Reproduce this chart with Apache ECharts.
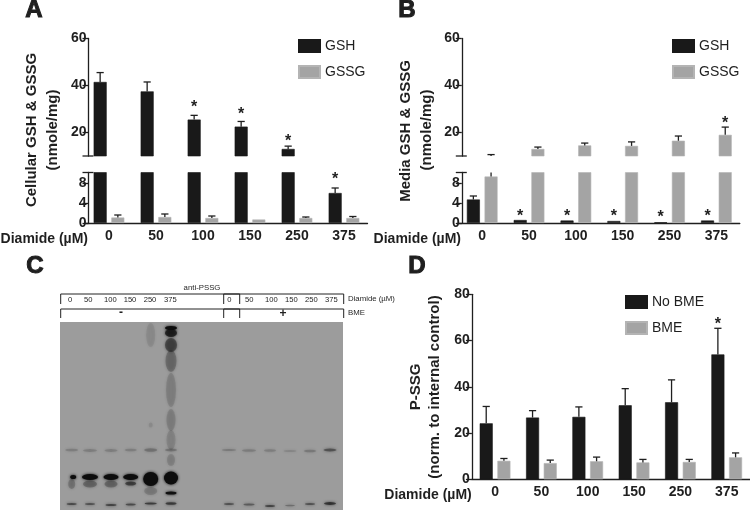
<!DOCTYPE html>
<html><head><meta charset="utf-8">
<style>html,body{margin:0;padding:0;background:#fff}#c{width:750px;height:510px}</style>
<script src="https://cdn.jsdelivr.net/npm/echarts@6/dist/echarts.min.js"></script>
</head><body><div id="c"></div>
<script>
// ---- data ----
const doses = ['0','50','100','150','250','375'];
const gshA = [41.5,37.5,25.5,22.5,13,6];
const gshATop = [45.5,41.5,27.3,24.7,14.2,7];
const gssgA = [1.1,1.2,1.0,0.7,1.0,1.0];
const gssgATop = [1.6,1.8,1.4,null,1.2,1.3];
const starsAUpper = [[2,-1,32.3],[3,-1,29.4],[4,-1,17.8]];
const starsALower = [[5,-1,9.46]];
const gshB = [4.7,0.6,0.5,0.4,0.15,0.5];
const gshBTop = [5.4,null,null,null,null,null];
const gssgB = [9.3,13,14.5,14.3,16.5,19];
const gssgBTop = [10.6,13.8,15.5,16,18.5,22.3];
const starsBUpper = [[5,1,25.6]];
const starsBLower = [[1,-1,2.14],[2,-1,2.14],[3,-1,2.14],[4,-1,1.8],[5,-1,2.14]];
const noBme = [24.2,26.7,27,32,33.3,54];
const noBmeTop = [31.5,29.7,31.3,39.2,43,65.3];
const bme = [8,7,7.8,7.3,7.5,9.5];
const bmeTop = [9,8.3,9.6,8.6,8.6,11.4];
const starsD = [[5,-1,68.6]];
const upperTicks = [20,40,60];
const lowerTicks = [0,4,8];
const ticksD = [0,20,40,60,80];
// blot: lane centres (gel units), and bands [lane, migration, width, height, density]
const laneLeft = [11.7,30,51,70.7,90.7,111];
const laneRight = [169,189,210,230,250,270];
const bandsLeft = [
 [0,165,13,2.5,.14],[1,165.5,14,3,.14],[2,165.5,13,3,.14],[3,165,12,2.5,.14],[4,165,13,3.5,.2],[5,165,12,3,.2],
 [0,219,10,2,.45],[1,219,10,2,.4],[2,220,11,2,.5],[3,219.5,10,2,.45],[4,218.5,12,2,.55],[5,218.5,11,2.5,.55],
 [0,199,7,10,.18],[1,199,14,7,.25],[2,199,13,7,.25],[3,198.5,11,4,.5],[4,206,13,8,.15],[5,208,11,3,.95],
 [0,192,6,4,1],[1,192,16,6,1],[2,192,15,6,1],[3,192,15,6,1],[4,194,15,14,1],[5,193,14,13,1],
 [5,43,12,4,1],[5,48,12,8,.7],[5,60,12,14,.42],[5,76,11,22,.22],[5,105,10,34,.12],[5,135,9,22,.13],[5,155,9,20,.1],[5,175,8,12,.12],
 [4,50,9,24,.07],[4,140,4,5,.08]
];
const bandsRight = [
 [0,165,14,2,.16],[1,165.5,14,2.5,.15],[2,165.5,12,2.5,.14],[3,166,13,2,.1],[4,166,12,2.5,.17],[5,165,13,3,.38],
 [0,219,10,2,.4],[1,219.5,11,2,.35],[2,221,10,2,.5],[3,220.5,10,1.5,.25],[4,219,10,2,.4],[5,218.5,12,3,.6]
];
const gelBox = [0,37,283,225];
const brackets = [[0.7,179.7,9,19],[0.7,179.7,24,33],[163.7,283.7,9,19],[163.7,283.7,24,33]];
const signRows = [['-',61,28],['+',223,29]];

// ---- shared styling ----
const INK='#1f1f1f', BLACK='#191919', GREY='#a4a4a4';
const FONT='"Liberation Sans",Arial,sans-serif';
const BAR_W=13, SHIFT=8.85;

const grids=[], xAxes=[], yAxes=[], series=[];

function errorSeries(g, vals, tops, sign, min, max){
  series.push({type:'custom',xAxisIndex:g,yAxisIndex:g,silent:true,z:5,
    data:vals.map((v,i)=>[i,v,tops[i]==null?NaN:tops[i]]),
    renderItem(p,api){
      const i=api.value(0),v=api.value(1),t=api.value(2);
      if(isNaN(t)) return {type:'group',children:[]};
      const lo=Math.max(v,min),hi=Math.min(t,max);
      if(lo>=hi) return {type:'group',children:[]};
      const a=api.coord([i,lo]),b=api.coord([i,hi]),x=a[0]+sign*SHIFT;
      const st={stroke:INK,lineWidth:1.3};
      const kids=[{type:'line',shape:{x1:x,y1:a[1],x2:x,y2:b[1]},style:st}];
      if(t<=max) kids.push({type:'line',shape:{x1:x-3.6,y1:b[1],x2:x+3.6,y2:b[1]},style:st});
      return {type:'group',children:kids};
    }});
}
function starSeries(g, rows){
  series.push({type:'custom',xAxisIndex:g,yAxisIndex:g,silent:true,z:6,data:rows,
    renderItem(p,api){
      const c=api.coord([api.value(0),api.value(2)]);
      return {type:'text',style:{text:'*',x:c[0]+api.value(1)*SHIFT,y:c[1]+4,textAlign:'center',textVerticalAlign:'middle',
        font:'bold 16px '+FONT,fill:INK}};
    }});
}
function breakTick(g, value){
  series.push({type:'custom',xAxisIndex:g,yAxisIndex:g,silent:true,z:5,data:[[0,value]],
    renderItem(p,api){
      const y=api.coord([0,api.value(1)])[1],x0=p.coordSys.x+3;
      return {type:'line',shape:{x1:x0-6,y1:y,x2:x0+5,y2:y},style:{stroke:INK,lineWidth:1.3}};
    }});
}
function addGrid(box, showX, yAxisOpt, off){
  const g=grids.length;
  grids.push(box);
  xAxes.push({gridIndex:g,type:'category',data:doses,show:showX,
    axisLine:{onZero:false,lineStyle:{color:INK,width:1.3}},
    axisTick:{alignWithLabel:true,length:5,lineStyle:{color:INK,width:1.3}},
    axisLabel:{interval:0,margin:6,color:INK,font:'bold 14px '+FONT,fontFamily:FONT,fontWeight:'bold',fontSize:14}});
  yAxes.push(Object.assign({gridIndex:g,type:'value',offset:off,splitLine:{show:false},
    axisLine:{show:true,lineStyle:{color:INK,width:1.3}}},yAxisOpt));
  return g;
}
function valueAxis(min,max,ticks){
  return {min,max,
    axisTick:{show:true,length:6,customValues:ticks,lineStyle:{color:INK,width:1.3}},
    axisLabel:{customValues:ticks,margin:2,color:INK,fontFamily:FONT,fontWeight:'bold',fontSize:14}};
}
function bars(g,name,color,vals,min){
  series.push({type:'bar',name,xAxisIndex:g,yAxisIndex:g,barWidth:BAR_W,barGap:'36%',
    itemStyle:{color,borderColor:color===GREY?'#b4b4b4':BLACK,borderWidth:.6},
    data:vals.map(v=>v>min?v:'-'),clip:true,silent:true});
}
function brokenPanel(left,width,a,aTop,b,bTop,starsUp,starsLow){
  const up=addGrid({left,width,top:38.5,height:117.5},false,valueAxis(10,60,upperTicks),-3);
  const low=addGrid({left,width,top:172.5,height:50.5},true,valueAxis(0,10.1,lowerTicks),-3);
  for(const [g,mn,mx] of [[up,10,60],[low,0,10.1]]){
    bars(g,'GSH',BLACK,a,mn); bars(g,'GSSG',GREY,b,mn);
    errorSeries(g,a,aTop,-1,mn,mx); errorSeries(g,b,bTop,1,mn,mx);
  }
  breakTick(up,10); breakTick(low,10.1);
  starSeries(up,starsUp); starSeries(low,starsLow);
}
brokenPanel(85.5,282,gshA,gshATop,gssgA,gssgATop,starsAUpper,starsALower);
brokenPanel(458.8,281,gshB,gshBTop,gssgB,gssgBTop,starsBUpper,starsBLower);

// panel D
const gD=addGrid({left:471.9,width:278,top:294.3,height:185},true,valueAxis(0,80,ticksD),0);
bars(gD,'No BME',BLACK,noBme,-1); bars(gD,'BME',GREY,bme,-1);
errorSeries(gD,noBme,noBmeTop,-1,0,80); errorSeries(gD,bme,bmeTop,1,0,80);
starSeries(gD,starsD);

// panel C: gel on its own hidden value scale
const gC=grids.length;
grids.push({left:60,top:285,width:283,height:225});
xAxes.push({gridIndex:gC,type:'value',min:0,max:283,show:false});
yAxes.push({gridIndex:gC,type:'value',min:0,max:225,inverse:true,show:false});
series.push({type:'custom',xAxisIndex:gC,yAxisIndex:gC,silent:true,z:1,data:[gelBox],
  renderItem(p,api){
    const a=api.coord([api.value(0),api.value(1)]),b=api.coord([api.value(2),api.value(3)]);
    return {type:'rect',shape:{x:a[0],y:a[1],width:b[0]-a[0],height:b[1]-a[1]},style:{fill:'#9c9c9c'}};
  }});
function bandItems(lanes,rows){
  return rows.map(r=>({value:[lanes[r[0]]+(r[0]===0&&lanes===laneLeft&&r[1]===192?1.5:0),r[1],r[2],r[3]],itemStyle:{opacity:r[4]}}));
}
series.push({type:'scatter',xAxisIndex:gC,yAxisIndex:gC,silent:true,z:2,symbol:'circle',
  symbolSize:v=>[v[2],v[3]],
  itemStyle:{color:'#0d0d0d',shadowBlur:3,shadowColor:'#0d0d0d'},
  data:bandItems(laneLeft,bandsLeft).concat(bandItems(laneRight,bandsRight))});
series.push({type:'custom',xAxisIndex:gC,yAxisIndex:gC,silent:true,z:3,data:brackets,
  renderItem(p,api){
    const a=api.coord([api.value(0),api.value(2)]),b=api.coord([api.value(1),api.value(3)]);
    return {type:'polyline',shape:{points:[[a[0],b[1]],[a[0],a[1]],[b[0],a[1]],[b[0],b[1]]]},style:{fill:'none',stroke:'#222',lineWidth:1}};
  }});
series.push({type:'custom',xAxisIndex:gC,yAxisIndex:gC,silent:true,z:3,
  data:laneLeft.map((x,i)=>[x-1.7+(i>1?1:0),i]).concat(laneRight.map((x,i)=>[x+.3+(i>1?1:0),i])),
  renderItem(p,api){
    const c=api.coord([api.value(0),15]);
    return {type:'text',style:{text:doses[api.value(1)],x:c[0],y:c[1],textAlign:'center',textVerticalAlign:'middle',font:'7.6px '+FONT,fill:'#222'}};
  }});
series.push({type:'custom',xAxisIndex:gC,yAxisIndex:gC,silent:true,z:3,data:signRows.map((r,i)=>[r[1],r[2],i]),
  renderItem(p,api){
    const c=api.coord([api.value(0),api.value(1)]);
    return {type:'text',style:{text:signRows[api.value(2)][0],x:c[0],y:c[1],textAlign:'center',textVerticalAlign:'middle',font:'bold 12px '+FONT,fill:'#222'}};
  }});

// free text
function txt(text,x,y,size,opt){
  opt=opt||{};
  return {type:'text',x,y,rotation:opt.rot?Math.PI/2:0,z:20,silent:true,style:{text,fill:INK,
    font:(opt.weight||'bold')+' '+size+'px '+FONT,textAlign:opt.align||'center',textVerticalAlign:'middle',
    stroke:opt.stroke?INK:null,lineWidth:opt.stroke||0}};
}
const texts=[
  txt('A',34,10,24,{stroke:1}),txt('B',407,10,24,{stroke:1}),txt('C',35,266,24,{stroke:1}),txt('D',417,266,24,{stroke:1}),
  txt('Cellular GSH & GSSG',32,130,15,{rot:1}),txt('(nmole/mg)',53,130,15,{rot:1}),
  txt('Media GSH & GSSG',405.7,131,15,{rot:1}),txt('(nmole/mg)',426.7,130,15,{rot:1}),
  txt('P-SSG',416,387,15,{rot:1}),txt('(norm. to internal control)',435,387,15,{rot:1}),
  txt('Diamide (µM)',88,239,14,{align:'right'}),txt('Diamide (µM)',461,239,14,{align:'right'}),txt('Diamide (µM)',471.7,495,14,{align:'right'}),
  txt('anti-PSSG',202,288,7.8,{weight:'normal'}),
  txt('Diamide (µM)',348,299,7.8,{weight:'normal',align:'left'}),txt('BME',348,313.3,7.8,{weight:'normal',align:'left'})
];
function legendAt(left,top,names){
  return {left,top,orient:'vertical',padding:0,itemGap:12,itemWidth:21,itemHeight:12,icon:'rect',selectedMode:false,
    data:names,textStyle:{color:INK,fontFamily:FONT,fontSize:14}};
}
const chart=echarts.init(document.getElementById('c'),null,{renderer:'canvas'});
chart.setOption({animation:false,backgroundColor:'#fff',
  grid:grids,xAxis:xAxes,yAxis:yAxes,series,
  legend:[legendAt(298,39,['GSH','GSSG']),legendAt(672,39,['GSH','GSSG']),legendAt(625,295,['No BME','BME'])],
  graphic:texts});
</script></body></html>
